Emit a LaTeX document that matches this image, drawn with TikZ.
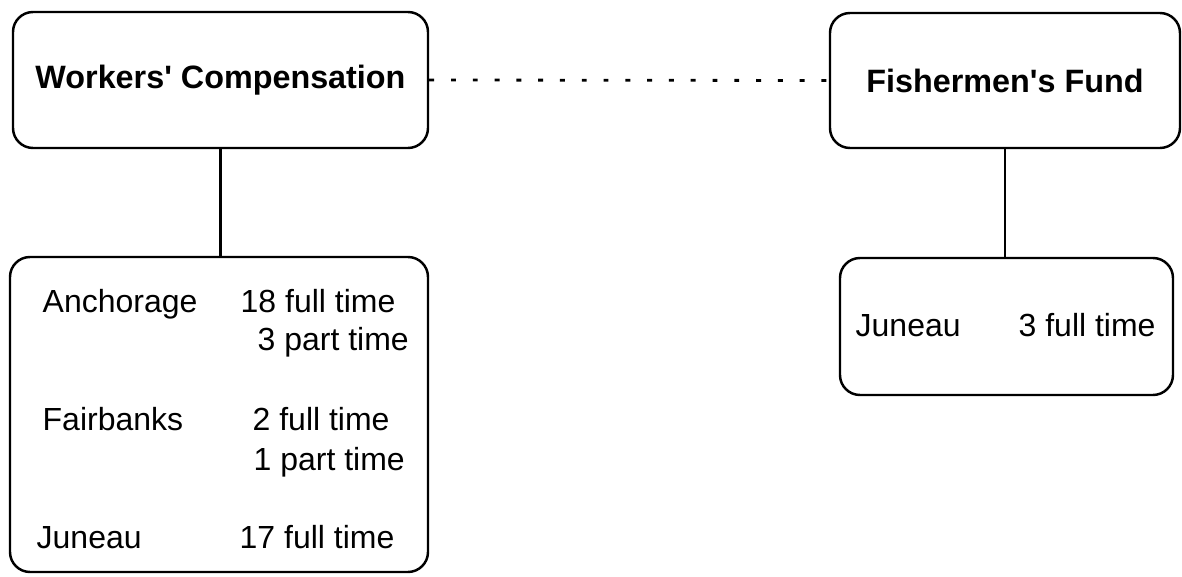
\documentclass[tikz,border=0pt]{standalone}
\usepackage{fontspec}
\setmainfont{Liberation Sans}
\usepackage{tikz}

\tikzset{
	dept/.style={draw, rounded corners=0.2cm, line width=0.7pt, inner sep=0pt,
		font=\fontsize{9.2}{11}\selectfont\bfseries},
	office/.style={draw, rounded corners=0.2cm, line width=0.7pt, inner sep=0pt},
	entry/.style={anchor=base west, inner sep=0pt, font=\fontsize{9.1}{11}\selectfont}
}

\begin{document}
\begin{tikzpicture}
	\useasboundingbox (0,0) rectangle (11.82,5.77);
	% top level
	\node[dept, minimum width=4.15cm, minimum height=1.36cm] (wc) at (2.205,4.97) {Workers\textquotesingle\ Compensation};
	\node[dept, minimum width=3.50cm, minimum height=1.35cm] (ff) at (10.05,4.965) {Fishermen\textquotesingle s Fund};
	\draw[line width=0.8pt, dash pattern=on 1.4pt off 4.8pt] (wc.east) -- (ff.west);
	% offices
	\node[office, minimum width=4.18cm, minimum height=3.15cm] (wcoff) at (2.19,1.625) {};
	\node[office, minimum width=3.33cm, minimum height=1.37cm] (ffoff) at (10.065,2.505) {};
	\draw[line width=0.7pt] (wc.south) -- (wc.south |- wcoff.north);
	\draw[line width=0.7pt] (ff.south) -- (ff.south |- ffoff.north);
	% workers' compensation staff
	\node[entry] (anc) at (0.42,2.64) {Anchorage};
	\node[entry] (ancft) at (2.40,2.64) {18 full time};
	\node[entry] (ancpt) at (2.57,2.26) {3 part time};
	\node[entry] (fai) at (0.42,1.46) {Fairbanks};
	\node[entry] (faift) at (2.52,1.46) {2 full time};
	\node[entry] (faipt) at (2.53,1.06) {1 part time};
	\node[entry] (jun) at (0.36,0.28) {Juneau};
	\node[entry] (junft) at (2.39,0.28) {17 full time};
	% fishermen's fund staff
	\node[entry] (ffjun) at (8.55,2.40) {Juneau};
	\node[entry] (ffjunft) at (10.18,2.40) {3 full time};
\end{tikzpicture}
\end{document}
